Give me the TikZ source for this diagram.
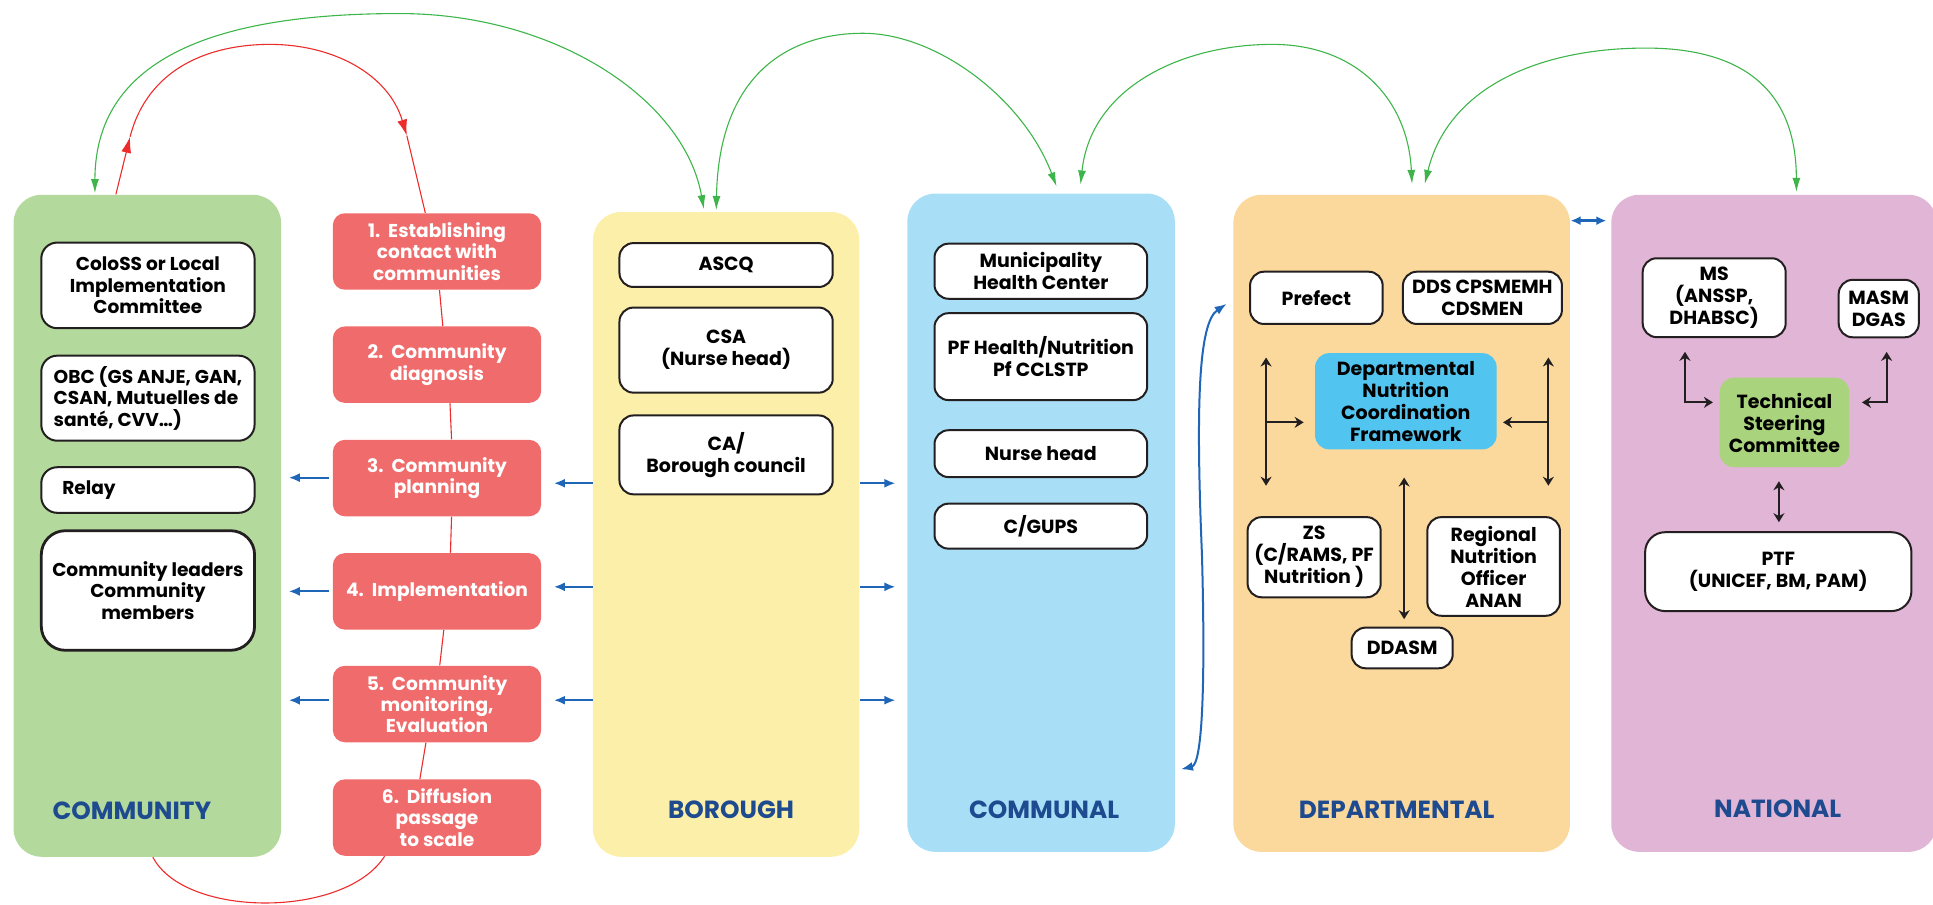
\documentclass[tikz,border=0pt]{standalone}
\usepackage{fontspec}
\setmainfont{Poppins}
\usetikzlibrary{arrows.meta,calc}
\definecolor{pgreen}{RGB}{180,217,156}
\definecolor{pyellow}{RGB}{252,239,169}
\definecolor{pblue}{RGB}{168,223,247}
\definecolor{porange}{RGB}{251,216,156}
\definecolor{ppink}{RGB}{224,181,213}
\definecolor{stepred}{RGB}{240,107,107}
\definecolor{ncfblue}{RGB}{82,196,240}
\definecolor{tscgreen}{RGB}{169,212,125}
\definecolor{lvlblue}{RGB}{30,74,143}
\definecolor{arrblue}{RGB}{31,102,184}
\definecolor{arcgreen}{RGB}{61,181,74}
\definecolor{arcred}{RGB}{237,43,43}
\definecolor{boxline}{RGB}{35,31,32}
\newcommand\myR{\fontsize{9.5}{11}\selectfont\bfseries}
\newcommand\myL{\fontsize{9.3}{10.7}\selectfont\bfseries}
\newcommand\myLab{\fontsize{12.4}{14}\selectfont\bfseries}
\begin{document}
\begin{tikzpicture}[x=0.6164pt,y=-0.6164pt,
  sz/.style 2 args={minimum width={#1*0.6164pt},minimum height={#2*0.6164pt}},
  panel/.style={rounded corners=14pt, inner sep=0pt},
  wbox/.style={draw=boxline, line width=1pt, fill=white, rounded corners=7pt, align=center, inner sep=0pt, font=\myR},
  lbox/.style={wbox, font=\myL, rounded corners=8pt},
  stepbox/.style={fill=stepred, rounded corners=6pt, align=center, text=white, inner sep=0pt, font=\myL, sz={169}{62}},
  fillbox/.style={rounded corners=7pt, align=center, inner sep=0pt, font=\myR},
  lvl/.style={font=\myLab, text=lvlblue, inner sep=0pt},
  garc/.style={draw=arcgreen, line width=0.55pt, {Latex[length=7pt,width=4pt]}-{Latex[length=7pt,width=4pt]}},
  redarc/.style={draw=arcred, line width=0.55pt},
  rtip/.style={-{Latex[length=8pt,width=5pt]}},
  barr/.style={draw=arrblue, line width=1pt, -{Latex[length=5.5pt,width=4.5pt]}},
  blk/.style={draw=boxline, line width=0.9pt},
  btip/.style={{Stealth[length=4.5pt,width=5.5pt]}-{Stealth[length=4.5pt,width=5.5pt]}},
  etip/.style={-{Stealth[length=4.5pt,width=5.5pt]}}
]
\useasboundingbox (0,0) rectangle (1568,734);

% panels
\node[panel, fill=pgreen, sz={217}{537}] (comm) at (119.5,426.5) {};
\node[panel, fill=pyellow, sz={216}{523}] (bor) at (589,433.5) {};
\node[panel, fill=pblue, sz={217}{534}] (cmu) at (844.5,424) {};
\node[panel, fill=porange, sz={273}{533}] (dep) at (1137,424.5) {};
\node[panel, fill=ppink, sz={264}{533}] (nat) at (1439,424.5) {};

% level labels
\node[lvl] (lcomm) at (107,658) {COMMUNITY};
\node[lvl] (lbor) at (593,657) {BOROUGH};
\node[lvl] (lcmu) at (847,657) {COMMUNAL};
\node[lvl] (ldep) at (1133,657) {DEPARTMENTAL};
\node[lvl] (lnat) at (1442,656) {NATIONAL};

% community boxes
\node[lbox, sz={173}{69.5}] (colo) at (120,231.5) {ColoSS or Local\\Implementation\\Committee};
\node[lbox, sz={173}{69}, align=left] (obc) at (120,323) {OBC (GS ANJE, GAN,\\CSAN, Mutuelles de\\santé, CVV…)};
\node[lbox, sz={173}{37}, align=left, text width={139*0.6164pt}, inner xsep={17*0.6164pt}] (relay) at (120,397.5) {Relay};
\node[lbox, sz={173}{97}, line width=1.4pt, rounded corners=12pt] (lead) at (120,479) {Community leaders\\Community\\members};

% steps
\node[stepbox] (s1) at (354.5,204) {1.\ \ Establishing\\contact with\\communities};
\node[stepbox] (s2) at (354.5,295.8) {2.\ \ Community\\diagnosis};
\node[stepbox] (s3) at (354.5,387.8) {3.\ \ Community\\planning};
\node[stepbox] (s4) at (354.5,479.7) {4.\ \ Implementation};
\node[stepbox] (s5) at (354.5,571.1) {5.\ \ Community\\monitoring,\\Evaluation};
\node[stepbox] (s6) at (354.5,663.2) {6.\ \ Diffusion\\passage\\to scale};

\draw[redarc] ($(s1.south)+(2,0)$) -- ($(s2.north)+(4.7,0)$);
\draw[redarc] ($(s2.south)+(10.5,0)$) -- ($(s3.north)+(11.8,0)$);
\draw[redarc] ($(s3.south)+(11.8,0)$) -- ($(s4.north)+(10.9,0)$);
\draw[redarc] ($(s4.south)+(5.5,0)$) -- ($(s5.north)+(2.2,0)$);
\draw[redarc] ($(s5.south)+(-9,0)$) -- ($(s6.north)+(-13.9,0)$);

% borough boxes
\node[wbox, sz={173}{35.6}] (ascq) at (589,215) {ASCQ};
\node[wbox, sz={173}{69}] (csa) at (589,284) {CSA\\(Nurse head)};
\node[wbox, sz={173}{64}] (ca) at (589,369) {CA/\\Borough council};

% communal boxes
\node[wbox, sz={172.5}{44.7}] (mhc) at (844.3,220) {Municipality\\Health Center};
\node[wbox, sz={172.5}{70.5}] (pfh) at (844.3,289.3) {PF Health/Nutrition\\Pf CCLSTP};
\node[wbox, sz={172.5}{38}] (nh) at (844.3,368) {Nurse head};
\node[wbox, sz={172.5}{36.5}] (cg) at (844.3,426.8) {C/GUPS};

% departmental boxes
\node[wbox, sz={107.6}{42.4}] (pref) at (1067.8,241.6) {Prefect};
\node[wbox, sz={129}{42.4}] (dds) at (1202.5,241.6) {DDS CPSMEMH\\CDSMEN};
\node[fillbox, fill=ncfblue, sz={147.3}{78}] (ncf) at (1140.4,325.5) {Departmental\\Nutrition\\Coordination\\Framework};
\node[wbox, sz={108}{65}] (zs) at (1066,452) {ZS\\(C/RAMS, PF\\Nutrition )};
\node[wbox, sz={107.6}{80}] (rno) at (1211.6,459.5) {Regional\\Nutrition\\Officer\\ANAN};
\node[wbox, sz={82}{33}] (ddasm) at (1137.4,525.6) {DDASM};

% national boxes
\node[wbox, sz={116}{64}] (ms) at (1390.5,241.5) {MS\\(ANSSP,\\DHABSC)};
\node[wbox, sz={65}{46.6}] (masm) at (1524,250.3) {MASM\\DGAS};
\node[fillbox, fill=tscgreen, sz={105}{72.6}] (tsc) at (1447.5,342.7) {Technical\\Steering\\Committee};
\node[wbox, sz={216}{64}, rounded corners=10pt] (ptf) at (1442.5,463.7) {PTF\\(UNICEF, BM, PAM)};

% departmental arrows
\coordinate (dl) at (1027,342.6);
\coordinate (dr) at (1256,342.6);
\draw[blk,btip] ($(dl)+(0,-52.6)$) -- ($(dl)+(0,51.4)$);
\draw[blk,etip,shorten >=5.5pt] (dl) -- (dl -| ncf.west);
\draw[blk,btip] ($(dr)+(0,-52.6)$) -- ($(dr)+(0,51.4)$);
\draw[blk,etip,shorten >=3pt] (dr) -- (dr -| ncf.east);
\draw[blk,btip,shorten <=13.9pt,shorten >=3.7pt] ($(ncf.south)+(-1.4,0)$) -- ($(ncf.south |- ddasm.north)+(-1.4,0)$);

% national arrows
\coordinate (msc) at (1366.8,326.4);
\coordinate (masc) at (1530.4,326.4);
\draw[blk,btip,shorten <=6.8pt,shorten >=3.2pt] (msc |- ms.south) -- (msc) -- (msc -| tsc.west);
\draw[blk,btip,shorten <=6.8pt,shorten >=6.2pt] (masc |- masm.south) -- (masc) -- (masc -| tsc.east);
\draw[blk,btip,shorten <=6.8pt,shorten >=4.5pt] ($(tsc.south)+(-4.5,0)$) -- ($(tsc.south |- ptf.north)+(-4.5,0)$);

% blue arrows
\draw[barr] ([xshift=-1.5pt,yshift=0.2pt]s3.west) -- ++(-33,0);
\draw[barr] ([xshift=-1.5pt]s4.west) -- ++(-33,0);
\draw[barr] ([xshift=-1.5pt,yshift=1.9pt]s5.west) -- ++(-33,0);
\draw[barr] ($(bor.west |- s3.east)+(0,4.2)$) -- ($(s3.east)+(10,4.2)$);
\draw[barr] ($(bor.west |- s4.east)+(0,-3.7)$) -- ($(s4.east)+(10,-3.7)$);
\draw[barr] ($(bor.west |- s5.east)+(0,-3.1)$) -- ($(s5.east)+(10,-3.1)$);
\draw[barr] ($(bor.east |- s3.east)+(0,4.2)$) -- ++(29,0);
\draw[barr] ($(bor.east |- s4.east)+(0,-3.7)$) -- ++(29,0);
\draw[barr] ($(bor.east |- s5.east)+(0,-3.1)$) -- ++(29,0);
\coordinate (dn1) at (1274,179);
\coordinate (dn2) at (1303,179);
\draw[draw=arrblue, line width=1.3pt, {Latex[length=5pt,width=4.5pt]}-{Latex[length=5pt,width=4.5pt]}] (dn1) -- (dn2);
\coordinate (bc1) at (958,624);
\coordinate (bc2) at (995,246.5);
\draw[draw=arrblue, line width=1pt, {Latex[length=6pt,width=4.5pt]}-{Latex[length=6pt,width=4.5pt]}] (bc1) .. controls (975,620) and (978,560) .. (975,450) .. controls (970,330) and (972,262) .. (bc2);

% green arcs
\draw[garc] ($(comm.north)+(-42.5,-1)$) .. controls (77,40) and (190,11) .. (324,11) .. controls (450,11) and (555,80) .. ($(bor.north)+(-18,-2)$);
\draw[garc] ($(bor.north)+(-8,-1.3)$) .. controls (583,60) and (640,27) .. (700,27) .. controls (760,27) and (830,80) .. ($(cmu.north)+(12.5,-5.6)$);
\draw[garc] ($(cmu.north)+(32,-7)$) .. controls (885,70) and (960,36) .. (1032,36) .. controls (1100,36) and (1142,80) .. ($(dep.north)+(8.4,-8.5)$);
\draw[garc] ($(dep.north)+(18.7,-8.5)$) .. controls (1175,70) and (1250,39) .. (1335,39) .. controls (1410,39) and (1457,70) .. ($(nat.north)+(18.2,-2)$);

% red arcs
\coordinate (rA) at (105.5,111);
\coordinate (rB) at (330,110);
\draw[redarc,rtip] ($(comm.north)+(-25.5,0)$) -- (rA);
\draw[redarc,rtip] (rA) .. controls (120,55) and (170,36) .. (219,36) .. controls (270,36) and (315,60) .. (rB);
\draw[redarc] (rB) -- ($(s1.north)+(-9.5,0)$);
\draw[redarc] ($(comm.south)+(4.5,0)$) .. controls (150,745) and (280,745) .. ($(s6.south)+(-42.5,0)$);
\end{tikzpicture}
\end{document}
